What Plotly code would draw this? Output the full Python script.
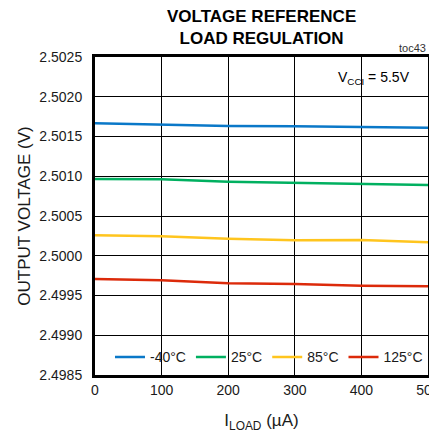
import plotly.graph_objects as go

# load current (uA)
i_load = [0, 100, 200, 300, 400, 500]

# output voltage (V) per temperature
v_m40 = [2.501666, 2.501645, 2.501632, 2.501628, 2.501619, 2.501611]
v_25 = [2.500965, 2.500962, 2.500931, 2.500919, 2.500902, 2.500890]
v_85 = [2.500257, 2.500245, 2.500214, 2.500194, 2.500198, 2.500169]
v_125 = [2.499707, 2.499691, 2.499653, 2.499645, 2.499623, 2.499616]

names = ["-40°C", "25°C", "85°C", "125°C"]
colors = ["#0a78c8", "#00b060", "#ffc51e", "#dc2a0a"]

fig = go.Figure()
for name, ys, c in zip(names, [v_m40, v_25, v_85, v_125], colors):
    fig.add_trace(go.Scatter(x=i_load, y=ys, mode="lines", name=name,
                             line=dict(color=c, width=2.5)))

font = "Liberation Sans, Arial, sans-serif"

# page body has an 8px margin, so the figure is 8px smaller than the window
fig.update_layout(
    width=429, height=427,
    margin=dict(l=87, r=9, t=49, b=60),
    paper_bgcolor="white", plot_bgcolor="white",
    font=dict(family=font, size=14, color="#1a1a1a"),
    showlegend=True,
    legend=dict(orientation="h", x=0.045, y=0.005, xanchor="left", yanchor="bottom",
                bgcolor="rgba(0,0,0,0)", font=dict(size=14), itemwidth=30,
                traceorder="normal"),
    xaxis=dict(range=[0, 500], dtick=100, showgrid=True, gridcolor="black",
               gridwidth=1.2, zeroline=False, showline=True, linecolor="black",
               linewidth=3, mirror=True, ticks="", automargin=False,
               ticklabeloverflow="allow",
               title=dict(text="I<sub>LOAD</sub> (µA)", standoff=18)),
    yaxis=dict(range=[2.4985, 2.5025], dtick=0.0005, tickformat=".4f",
               showgrid=True, gridcolor="black", gridwidth=1.2, zeroline=False,
               showline=True, linecolor="black", linewidth=3, mirror=True,
               ticks="", automargin=False, ticklabelstandoff=7,
               title=dict(text="OUTPUT VOLTAGE (V)", standoff=5)),
    annotations=[
        dict(text="<b>VOLTAGE REFERENCE<br>LOAD REGULATION</b>", xref="paper",
             yref="paper", x=0.5, y=1.0, yshift=7, xanchor="center", yanchor="bottom",
             showarrow=False,
             font=dict(family="Liberation Sans Narrow, Arial Narrow, " + font,
                       size=17, color="black")),
        dict(text="toc43", xref="paper", yref="paper", x=1.0, y=1.0, xshift=0,
             yshift=1, xanchor="right", yanchor="bottom", showarrow=False,
             font=dict(size=11, color="#333")),
        dict(text="V<sub>CCI</sub> = 5.5V", xref="paper", yref="paper", x=0.952,
             y=0.97, xanchor="right", yanchor="top", showarrow=False,
             font=dict(size=14, color="black")),
    ],
)

fig.write_html("out.html")
